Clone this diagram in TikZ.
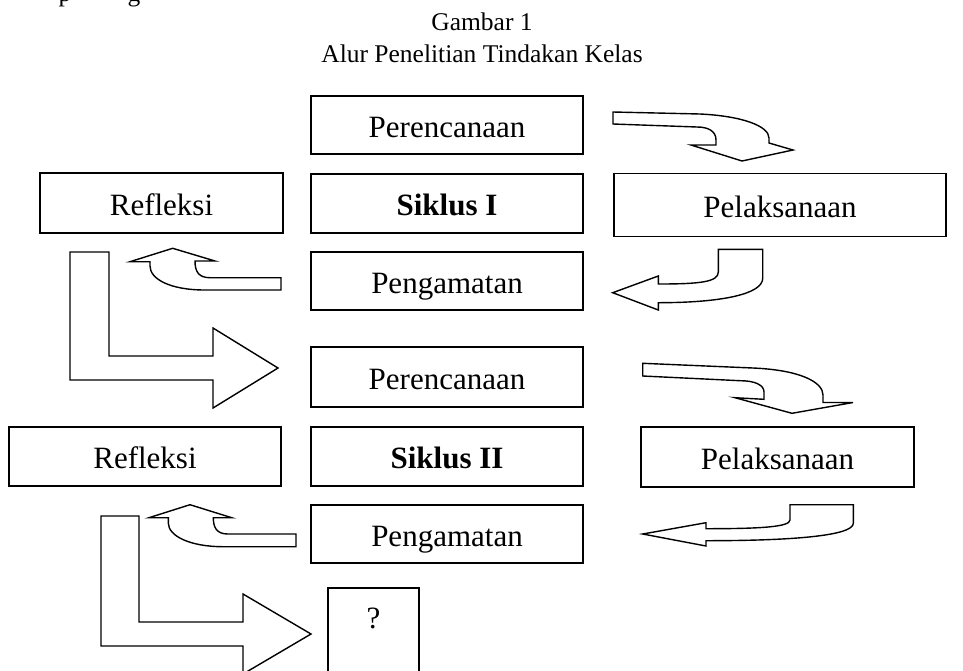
\documentclass[tikz,border=0pt]{standalone}
\usepackage{fontspec}
\setmainfont{Liberation Serif}
\begin{document}
\begin{tikzpicture}[x=1pt,y=-1pt,
  box/.style={draw,line width=1.6pt,inner sep=0pt,font=\fontsize{31}{31}\selectfont,text height=24pt,text depth=0pt},
  titletext/.style={inner sep=0pt,anchor=base,font=\fontsize{25.5}{25.5}\selectfont},
  blockarrow/.style={draw,line width=1.4pt,line join=miter,fill=white}]
\useasboundingbox (0,0) rectangle (963,670);
% cut-off fragment of the preceding line (only descenders show)
\node[titletext] (frag1) at (65,1) {p};
\node[titletext] (frag2) at (134,1) {g};
% title
\node[titletext] (t1) at (482,30) {Gambar 1};
\node[titletext] (t2) at (482,62) {Alur Penelitian Tindakan Kelas};
% cycle I
\node[box,minimum width=272pt,minimum height=58pt] (p1) at (447,125) {Perencanaan};
\node[box,minimum width=272pt,minimum height=59pt] (s1) at (447,203.5) {\bfseries Siklus I};
\node[box,minimum width=272pt,minimum height=58pt] (g1) at (447,281) {Pengamatan};
\node[box,minimum width=243pt,minimum height=60pt] (r1) at (161.5,203) {Refleksi};
\node[box,minimum width=332pt,minimum height=63pt] (l1) at (780,205) {Pelaksanaan};
% cycle II
\node[box,minimum width=272pt,minimum height=60pt] (p2) at (447,377) {Perencanaan};
\node[box,minimum width=272pt,minimum height=59pt] (s2) at (447,456.5) {\bfseries Siklus II};
\node[box,minimum width=272pt,minimum height=58pt] (g2) at (447,534) {Pengamatan};
\node[box,minimum width=272pt,minimum height=59pt] (r2) at (145,456.5) {Refleksi};
\node[box,minimum width=273pt,minimum height=60pt] (l2) at (777.5,457) {Pelaksanaan};
% question box (runs off the bottom)
\draw[line width=1.6pt] (328,700) -- (328,588) -- (419,588) -- (419,700);
\node[inner sep=0pt,anchor=base,font=\fontsize{31}{31}\selectfont] (q) at (373.5,628) {?};
% arrow Perencanaan -> Pelaksanaan (I)
\draw[blockarrow] (613,112) -- (700,114) .. controls (742,116) and (769,126) .. (769,138)
  -- (769,143) -- (793,150) -- (742,161) -- (691,145) -- (716,145) -- (716,140)
  .. controls (716,131) and (708,127) .. (697,127) -- (613,124) -- cycle;
% arrow Pelaksanaan -> Pengamatan (I)
\draw[blockarrow] (718.3,249.3) -- (762.7,249.3) -- (762.7,278.3)
  .. controls (762.7,294) and (722,302.7) .. (658.3,302.7) -- (658.3,310) -- (612.7,292.7)
  -- (658.3,276) -- (658.3,284) .. controls (700,284) and (718.3,282) .. (718.3,272) -- cycle;
% arrow Pengamatan -> Refleksi (I)
\draw[blockarrow] (281,277.7) -- (281,290) -- (205,290) .. controls (170,290) and (150,279) .. (150,266)
  -- (150,261.7) -- (130,261.7) -- (172.7,248.3) -- (215,261) -- (195,261)
  .. controls (195,272) and (199,277.7) .. (210,277.7) -- cycle;
% L arrow Refleksi -> Perencanaan II
\draw[blockarrow] (70,252) -- (109,252) -- (109,356) -- (213,356) -- (213,328) -- (278,368)
  -- (213,408) -- (213,380) -- (70,380) -- cycle;
% arrow Perencanaan -> Pelaksanaan (II)
\draw[blockarrow] (642.7,363.3) -- (753,368) .. controls (800,370) and (823,382) .. (823,395)
  -- (823,402.5) -- (853,402.5) -- (792,413.3) -- (735,397.7) -- (764,399.3) -- (764,392)
  .. controls (764,385) and (755,380.7) .. (740,380.7) -- (642.7,376) -- cycle;
% arrow Pelaksanaan -> Pengamatan (II)
\draw[blockarrow] (790,504.7) -- (853.3,504.7) -- (853.3,523.3)
  .. controls (853.3,536) and (790,540.7) .. (706,540.7) -- (706,546) -- (642.7,534)
  -- (706,522.7) -- (706,528.7) .. controls (760,528.7) and (790,527) .. (790,520) -- cycle;
% arrow Pengamatan -> Refleksi (II)
\draw[blockarrow] (296,534) -- (296,546.7) -- (223.3,546.7) .. controls (190,546.7) and (168.3,536) .. (168.3,523)
  -- (168.3,517.7) -- (149,517.7) -- (190,504.7) -- (231.7,517.7) -- (213.3,517.7)
  .. controls (213.3,528) and (217,534) .. (228,534) -- cycle;
% L arrow Refleksi II -> ?
\draw[blockarrow] (101,516) -- (139,516) -- (139,622) -- (243,622) -- (243,594) -- (311,634)
  -- (243,674) -- (243,646) -- (101,646) -- cycle;
\end{tikzpicture}
\end{document}
